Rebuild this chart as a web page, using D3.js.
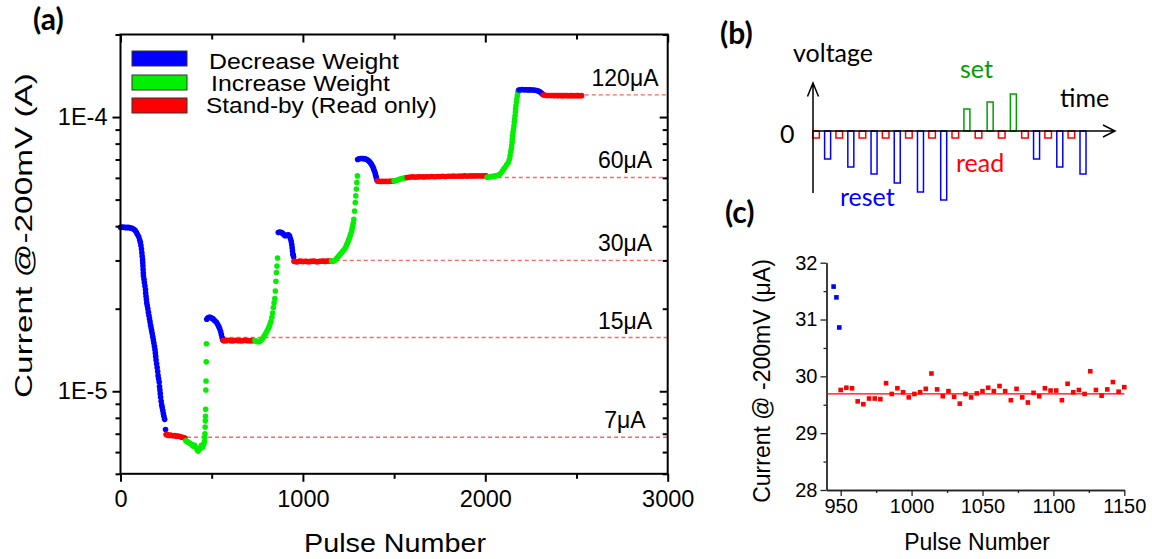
<!DOCTYPE html>
<html>
<head>
<meta charset="utf-8">
<script src="https://cdn.jsdelivr.net/npm/d3@7"></script>
<style>
body{margin:0;background:#fff;}
svg{display:block;font-family:"Liberation Sans",Arial,sans-serif;}
</style>
</head>
<body>
<script>
// ---------- (a) current vs pulse number, values in uA ----------
var dec1 = [[0,39.6],[8,39.7],[16,39.6],[24,39.6],[32,39.5],[40,39.6],[48,39.5],[56,39.4],[64,39.3],[72,39.0],[80,38.6],[87,38.0],[93,37.3],[100,36.6],[105,35.7],[109,34.9],[112,34.0],[115,33.0],[117,32.0],[119,31.1],[121,30.2],[122,29.4],[123,28.6],[124,27.8],[125,27.0],[126,26.3],[129,25.6],[131,24.9],[134,24.2],[137,23.5],[138,22.8],[140,22.2],[142,21.6],[144,21.0],[147,20.5],[150,20.0],[153,19.4],[156,18.9],[159,18.4],[162,17.9],[165,17.4],[168,17.0],[171,16.6],[174,16.2],[177,15.8],[180,15.4],[183,15.0],[186,14.6],[189,14.2],[191,13.8],[193,13.4],[195,13.0],[198,12.6],[201,12.2],[204,11.8],[206,11.4],[209,11.1],[212,10.8],[214,10.4],[216,10.1],[218,9.8],[220,9.5],[223,9.2],[226,8.9],[229,8.7],[232,8.5],[235,8.3],[238,8.1],[242,7.9],[247,7.25]];
var stb1 = [[250,6.95],[257,6.95],[265,6.9],[273,6.92],[281,6.9],[289,6.88],[297,6.9],[305,6.85],[313,6.87],[321,6.85],[329,6.82],[337,6.8],[345,6.78],[353,6.75]];
var inc1 = [[358,6.6],[366,6.55],[374,6.5],[382,6.45],[390,6.4],[398,6.3],[406,6.35],[414,6.25],[420,6.1],[426,6.05],[432,6.15],[438,6.2],[444,6.35],[450,6.25],[456,6.4],[460,6.55],[462,6.8],[463,7.0],[464,7.4],[465,7.8],[466,8.1],[467,8.6],[468,10.1],[469,10.9],[470,12.8],[471,14.9]];
var dec2 = [[473,18.3],[478,18.5],[485,18.6],[492,18.6],[499,18.5],[506,18.4],[513,18.2],[520,18.0],[527,17.8],[533,17.5],[539,17.2],[544,16.9],[549,16.5],[553,16.1],[557,15.7],[560,15.4]];
var stb2 = [[563,15.3],[572,15.25],[582,15.3],[592,15.35],[602,15.3],[612,15.25],[622,15.3],[632,15.35],[642,15.3],[652,15.3],[662,15.25],[672,15.3],[682,15.35],[692,15.3],[702,15.3],[712,15.25],[722,15.3],[730,15.3]];
var inc2 = [[737,15.3],[746,15.2],[755,15.15],[763,15.2],[771,15.35],[778,15.55],[785,15.8],[792,16.05],[798,16.3],[804,16.6],[810,16.9],[815,17.2],[820,17.6],[825,18.0],[830,18.6],[834,19.3],[838,20.2],[842,21.0],[846,21.8],[849,23.2],[852,25.2],[855,27.1],[858,28.6],[861,30.6]];
var dec3 = [[865,37.9],[872,38.1],[879,38.0],[886,37.8],[893,37.4],[900,37.0],[907,36.9],[914,37.1],[921,37.2],[927,36.8],[932,36.0],[936,35.2],[939,34.3],[941,33.4],[943,32.5],[945,31.6],[947,31.4],[949,30.85]];
var stb3 = [[951,29.8],[961,29.65],[971,29.65],[981,29.85],[991,29.8],[1001,29.7],[1011,29.8],[1021,29.75],[1031,29.65],[1041,29.75],[1051,29.8],[1061,29.85],[1071,29.7],[1081,29.65],[1091,29.8],[1101,29.8],[1111,29.85],[1121,29.75],[1131,29.85],[1141,29.85],[1150,29.85]];
var inc3 = [[1157,29.85],[1164,29.8],[1172,29.9],[1180,30.2],[1187,30.6],[1194,31.0],[1201,31.4],[1208,31.8],[1215,32.2],[1222,32.6],[1229,33.1],[1235,33.6],[1240,34.2],[1245,34.8],[1250,35.5],[1255,36.2],[1259,36.9],[1263,37.6],[1267,38.4],[1270,39.2],[1273,40.0],[1276,41.0],[1279,42.4],[1283,45.4],[1287,48.8],[1290,51.6],[1293,54.6],[1296,57.7],[1299,61.0]];
var dec4 = [[1300,70.0],[1308,70.4],[1316,70.6],[1324,70.6],[1332,70.5],[1340,70.4],[1348,70.1],[1355,69.7],[1362,69.1],[1368,68.4],[1374,67.6],[1379,66.7],[1384,65.7],[1388,64.7],[1392,63.6],[1396,62.5],[1399,61.4],[1402,60.3],[1405,59.2]];
var stb4 = [[1408,58.4],[1417,58.3],[1426,58.2],[1435,58.3],[1444,58.2],[1453,58.3],[1462,58.2],[1471,58.3],[1480,58.3],[1489,58.3],[1496,58.4]];
var inc4 = [[1500,58.5],[1509,58.7],[1518,58.9],[1527,59.2],[1536,59.5],[1545,59.7],[1554,59.9],[1562,60.1],[1568,60.2]];
var stb5 = [[1572,60.2],[1587,60.4],[1602,60.5],[1617,60.4],[1632,60.5],[1647,60.6],[1662,60.5],[1677,60.6],[1692,60.6],[1707,60.7],[1722,60.6],[1737,60.7],[1752,60.7],[1767,60.8],[1782,60.7],[1797,60.8],[1812,60.8],[1827,60.9],[1842,60.8],[1857,60.9],[1872,60.9],[1887,61.0],[1902,60.9],[1917,61.0],[1932,61.0],[1947,61.0],[1962,61.1],[1977,61.0],[1992,61.0],[2004,61.0]];
var inc5 = [[2010,60.3],[2019,60.4],[2030,60.6],[2040,60.75],[2050,60.9],[2058,61.0],[2066,61.2],[2075,61.6],[2085,62.4],[2093,63.5],[2101,64.6],[2108,65.5],[2116,66.8],[2126,68.3],[2132,70.2],[2136,72.2],[2139,74.5],[2142,76.4],[2145,78.5],[2147,81.0],[2148,83.1],[2150,85.4],[2152,88.1],[2155,90.4],[2157,92.9],[2159,95.9],[2161,98.3],[2163,101.1],[2165,104.3],[2166,107.0],[2168,110.0],[2171,113.4],[2173,116.4],[2176,119.7],[2179,122.9],[2181,124.8]];
var dec5 = [[2184,125.5],[2192,125.8],[2201,125.9],[2210,125.8],[2219,125.7],[2228,125.8],[2237,125.6],[2246,125.7],[2255,125.5],[2264,125.5],[2273,125.3],[2282,125.0],[2290,124.5],[2297,123.8],[2304,122.8],[2310,121.9],[2315,121.0]];
var stb6 = [[2318,120.3],[2328,120.1],[2338,119.9],[2348,119.8],[2358,119.9],[2368,119.8],[2378,119.7],[2388,119.8],[2398,119.7],[2408,119.8],[2418,119.7],[2428,119.7],[2438,119.8],[2448,119.7],[2458,119.6],[2468,119.7],[2478,119.7],[2488,119.6],[2498,119.7],[2508,119.7],[2518,119.6],[2528,119.7]];

var segments = [["dec",dec1],["stb",stb1],["inc",inc1],["dec",dec2],["stb",stb2],["inc",inc2],["dec",dec3],["stb",stb3],["inc",inc3],["dec",dec4],["stb",stb4],["inc",inc4],["stb",stb5],["inc",inc5],["dec",dec5],["stb",stb6]];

var refLevels = [6.8, 15.7, 30, 60.2, 120.5];   // uA
var refStart = [250, 560, 950, 1570, 2315];
var refLabels = ["7\u03bcA","15\u03bcA","30\u03bcA","60\u03bcA","120\u03bcA"];

var legendNames = ["Decrease Weight","Increase Weight","Stand-by (Read only)"];
var xTicksA = [0,1000,2000,3000];
var yMajorA = [10,100];
var yMajorLabels = ["1E-5","1E-4"];

// ---------- (b) pulse scheme ----------
var pulseKind = ["read","reset","read","reset","read","reset","read","reset","read","reset","read","reset",
                 "read","set","read","set","read","set","read","reset","read","reset","read","reset"];
var pulseAmp = [-0.7,-2.8,-0.7,-3.6,-0.7,-4.3,-0.7,-5.2,-0.7,-6.1,-0.7,-6.9,
                -0.7,2.2,-0.7,2.9,-0.7,3.7,-0.7,-2.8,-0.7,-3.6,-0.7,-4.3];

// ---------- (c) zoom of the 30uA stand-by ----------
var cResetPulse = [945,947,949];
var cResetVals = [31.58,31.39,30.86];
var cReadPulse = d3.range(950,1151,4);
var cReadVals = [29.76,29.80,29.79,29.56,29.51,29.61,29.61,29.60,29.88,29.69,29.79,29.72,29.63,29.69,29.72,29.78,30.05,29.77,29.65,29.74,29.64,29.52,29.69,29.63,29.70,29.74,29.80,29.74,29.83,29.74,29.58,29.78,29.63,29.54,29.71,29.65,29.79,29.75,29.75,29.58,29.87,29.72,29.76,29.69,30.09,29.76,29.66,29.77,29.90,29.73,29.81];
var cFit = 29.69;
var xTicksC = [950,1000,1050,1100,1150];
var yTicksC = [28,29,30,31,32];

var colors = {dec:"#0000ff", inc:"#00f000", stb:"#ff0000"};
var FONT = "'Liberation Sans', Arial, sans-serif";

var svg = d3.select("body").append("svg").attr("width",1152).attr("height",559)
    .attr("font-family",FONT);
svg.append("rect").attr("width",1152).attr("height",559).attr("fill","#fff");

// ================= panel (a) =================
var xA = d3.scaleLinear().domain([0,3000]).range([120.5,667.7]);
var yA = d3.scaleLog().domain([5,200]).range([473.8,34.5]);
var gA = svg.append("g");

// dashed reference levels
refLevels.forEach(function(v,i){
    gA.append("line").attr("x1",xA(refStart[i])).attr("x2",xA(3000))
        .attr("y1",yA(v)).attr("y2",yA(v))
        .attr("stroke","#ff6464").attr("stroke-width",1.4).attr("stroke-dasharray","4,3");
    gA.append("text").attr("x",xA(2766)).attr("y",yA(v)-9)
        .attr("text-anchor","middle").attr("font-size",23).text(refLabels[i]);
});

var pts = [];
segments.forEach(function(s){
    s[1].forEach(function(p){ pts.push({k:s[0], x:p[0], y:p[1]}); });
});
gA.selectAll("circle.pt").data(pts).enter().append("circle")
    .attr("cx",function(d){return xA(d.x);})
    .attr("cy",function(d){return yA(d.y);})
    .attr("r",2.8)
    .attr("fill",function(d){return colors[d.k];});

function styleAxis(g){
    g.select(".domain").remove();
    g.selectAll("line").attr("stroke","#000").attr("stroke-width",2);
    g.attr("font-family",FONT);
}

// bottom
gA.append("g").attr("transform","translate(0,473.8)")
    .call(d3.axisBottom(xA).tickValues([500,1500,2500]).tickSize(5).tickFormat(""))
    .call(styleAxis);
gA.append("g").attr("transform","translate(0,473.8)")
    .call(d3.axisBottom(xA).tickValues(xTicksA).tickSize(8).tickPadding(9).tickFormat(d3.format("d")))
    .call(styleAxis).attr("font-size",23.5);
// top (inward)
gA.append("g").attr("transform","translate(0,34.5)")
    .call(d3.axisTop(xA).tickValues([500,1500,2500]).tickSize(-5).tickFormat(""))
    .call(styleAxis);
gA.append("g").attr("transform","translate(0,34.5)")
    .call(d3.axisTop(xA).tickValues(xTicksA).tickSize(-8).tickFormat(""))
    .call(styleAxis);
// left
var minorA = yA.ticks().filter(function(t){return yMajorA.indexOf(t) < 0;});
gA.append("g").attr("transform","translate(120.5,0)")
    .call(d3.axisLeft(yA).tickValues(minorA).tickSize(5).tickFormat(""))
    .call(styleAxis);
gA.append("g").attr("transform","translate(120.5,0)")
    .call(d3.axisLeft(yA).tickValues(yMajorA).tickSize(8).tickPadding(5)
        .tickFormat(function(d,i){return yMajorLabels[i];}))
    .call(styleAxis).attr("font-size",23.5);
// right (inward)
gA.append("g").attr("transform","translate(667.7,0)")
    .call(d3.axisRight(yA).tickValues(minorA).tickSize(-5).tickFormat(""))
    .call(styleAxis);
gA.append("g").attr("transform","translate(667.7,0)")
    .call(d3.axisRight(yA).tickValues(yMajorA).tickSize(-8).tickFormat(""))
    .call(styleAxis);
gA.selectAll("text").attr("fill","#000");

gA.append("rect").attr("x",120.5).attr("y",34.5).attr("width",667.7-120.5).attr("height",473.8-34.5)
    .attr("fill","none").attr("stroke","#000").attr("stroke-width",2);

// legend
var legY = [51,75,98], legText = [68.5,91,113], legLen = [190,179,231], legX = [209,211,206];
["dec","inc","stb"].forEach(function(k,i){
    gA.append("rect").attr("x",132).attr("y",legY[i]).attr("width",55).attr("height",15)
        .attr("fill",colors[k]).attr("stroke","#333").attr("stroke-width",1);
    gA.append("text").attr("x",legX[i]).attr("y",legText[i]).attr("font-size",21.5)
        .attr("textLength",legLen[i]).attr("lengthAdjust","spacingAndGlyphs").text(legendNames[i]);
});

gA.append("text").attr("x",395).attr("y",552).attr("text-anchor","middle").attr("font-size",26)
    .attr("textLength",182).attr("lengthAdjust","spacingAndGlyphs").text("Pulse Number");
gA.append("text").attr("transform","translate(32,235.5) rotate(-90)").attr("text-anchor","middle")
    .attr("font-size",24).attr("textLength",325).attr("lengthAdjust","spacingAndGlyphs")
    .text("Current @-200mV (A)");

// panel letters
var letters = [["(a)",33,30],["(b)",720,44],["(c)",725,223]];
letters.forEach(function(l){
    svg.append("text").attr("x",l[1]).attr("y",l[2]).attr("font-family","Lato, sans-serif")
        .attr("font-weight",700).attr("font-size",30).text(l[0]);
});

// ================= panel (b) =================
var gB = svg.append("g").attr("font-family","Lato, sans-serif");
var tB = d3.scaleLinear().domain([0,23]).range([816,1083]);
var vB = d3.scaleLinear().domain([-7,4]).range([201,91]);
var pulseCol = {read:"#ff0000", reset:"#0000ff", set:"#00a000"};

gB.selectAll("rect.pulse").data(pulseKind).enter().append("rect")
    .attr("x",function(d,i){ return tB(i) - (d=="read"?3.3:3); })
    .attr("width",function(d){ return d=="read"?6.6:6; })
    .attr("y",function(d,i){ return Math.min(vB(0),vB(pulseAmp[i])); })
    .attr("height",function(d,i){ return Math.abs(vB(pulseAmp[i]) - vB(0)); })
    .attr("fill","#fff").attr("stroke",function(d){return pulseCol[d];}).attr("stroke-width",1.5);

gB.append("path").attr("d","M813,193V83M807.5,96.5L813,83L818.5,96.5")
    .attr("fill","none").attr("stroke","#000").attr("stroke-width",1.5);
gB.append("path").attr("d","M813," + vB(0) + "H1115M1103," + (vB(0)-6) + "L1115," + vB(0) + "L1103," + (vB(0)+6))
    .attr("fill","none").attr("stroke","#000").attr("stroke-width",1.5);

gB.append("text").attr("x",793).attr("y",62).attr("font-size",25).text("voltage");
gB.append("text").attr("x",1060).attr("y",107).attr("font-size",25).text("time");
gB.append("text").attr("x",780).attr("y",143).attr("font-size",25).text("0");
gB.append("text").attr("x",960).attr("y",78).attr("font-size",25).attr("fill","#00a000").text("set");
gB.append("text").attr("x",956).attr("y",172).attr("font-size",25).attr("fill","#ff0000").text("read");
gB.append("text").attr("x",840).attr("y",206).attr("font-size",25).attr("fill","#0000ff").text("reset");

// ================= panel (c) =================
var xC = d3.scaleLinear().domain([940,1150]).range([826.5,1124.3]);
var yC = d3.scaleLinear().domain([28,32]).range([490,262.7]);
var gC = svg.append("g");

function styleC(g){
    g.select(".domain").attr("stroke","#222").attr("stroke-width",1.3);
    g.selectAll("line").attr("stroke","#222").attr("stroke-width",1.3);
    g.attr("font-family",FONT).attr("font-size",20);
    g.selectAll("text").attr("fill","#000");
}
gC.append("g").attr("transform","translate(0,490)")
    .call(d3.axisBottom(xC).tickValues([975,1025,1075,1125]).tickSize(3).tickFormat("").tickSizeOuter(0))
    .call(styleC);
gC.append("g").attr("transform","translate(0,490)")
    .call(d3.axisBottom(xC).tickValues(xTicksC).tickSize(6).tickPadding(3).tickSizeOuter(0)
        .tickFormat(d3.format("d")))
    .call(styleC);
gC.append("g").attr("transform","translate(826.5,0)")
    .call(d3.axisLeft(yC).tickValues([28.5,29.5,30.5,31.5]).tickSize(3).tickFormat("").tickSizeOuter(0))
    .call(styleC);
gC.append("g").attr("transform","translate(826.5,0)")
    .call(d3.axisLeft(yC).tickValues(yTicksC).tickSize(6).tickPadding(3).tickSizeOuter(0)
        .tickFormat(d3.format("d")))
    .call(styleC);

gC.append("line").attr("x1",xC(940)).attr("x2",xC(1150)).attr("y1",yC(cFit)).attr("y2",yC(cFit))
    .attr("stroke","#ff0000").attr("stroke-width",1.3);

gC.selectAll("rect.rd").data(cReadVals).enter().append("rect")
    .attr("x",function(d,i){return xC(cReadPulse[i]) - 2.3;})
    .attr("y",function(d){return yC(d) - 2.3;})
    .attr("width",4.6).attr("height",4.6).attr("fill","#ff0000");
gC.selectAll("rect.rs").data(cResetVals).enter().append("rect")
    .attr("x",function(d,i){return xC(cResetPulse[i]) - 2.3;})
    .attr("y",function(d){return yC(d) - 2.3;})
    .attr("width",4.6).attr("height",4.6).attr("fill","#0000ff");

gC.append("text").attr("x",977).attr("y",550).attr("text-anchor","middle").attr("font-size",23)
    .text("Pulse Number");
gC.append("text").attr("transform","translate(770,381) rotate(-90)").attr("text-anchor","middle")
    .attr("font-size",23).text("Current @ -200mV (\u03bcA)");
</script>
</body>
</html>
